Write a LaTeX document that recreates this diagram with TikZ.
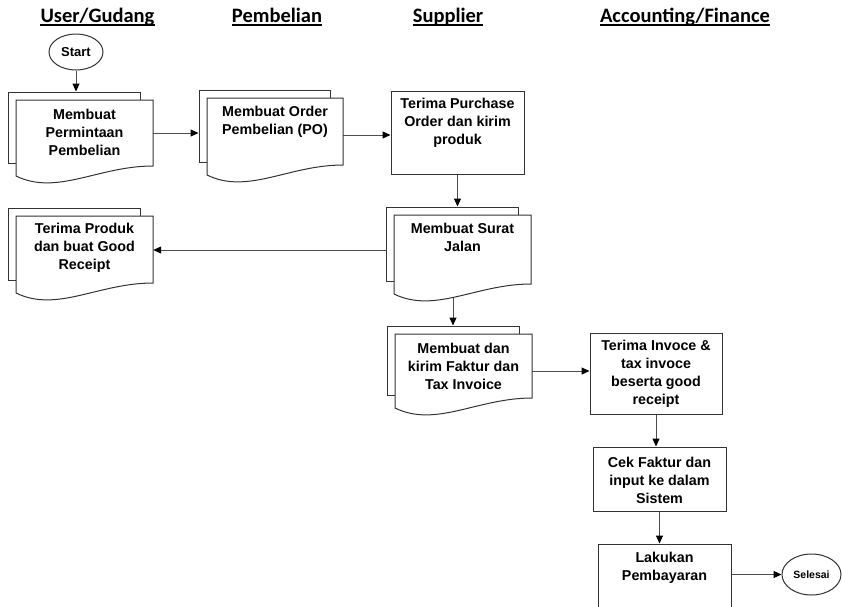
\documentclass[tikz,border=0pt]{standalone}
\usepackage{fontspec}
\setmainfont{Liberation Sans}
\newfontfamily\hdrfont{Carlito}
\usetikzlibrary{arrows.meta,shapes.geometric}
\pgfdeclarelayer{background}
\pgfsetlayers{background,main}
\tikzset{
  boxline/.style={draw=black!80, line width=1pt},
  txt/.style={align=center, font=\fontsize{14.3}{18}\selectfont\bfseries, inner sep=0pt},
  hdr/.style={font=\hdrfont\fontsize{20.5}{24}\selectfont\bfseries, inner sep=0pt, anchor=base},
  conn/.style={draw=black!70, line width=1pt, -{Triangle[length=8pt,width=7pt,color=black]}},
  procbox/.style={boxline, fill=white, rectangle, inner sep=0pt},
  term/.style={boxline, fill=white, ellipse, inner sep=0pt},
  ghost/.style={rectangle, inner sep=0pt, draw=none},
}
% #1 name, #2 x0, #3 x1, #4 top, #5 left bottom, #6 text y, #7 text
\newcommand\mdoc[7]{%
  \pgfmathsetmacro\mdW{(#3)-(#2)}%
  \node[procbox, minimum width={(#3)-(#2)-5}, minimum height={(#5)-(#4)-5}]
    (#1-b) at ({((#2)-8+(#3)-13)/2},{((#4)-8+(#5)-13)/2}) {};
  \draw[boxline, fill=white] (#2,#4) -- (#3,#4) -- (#3,{(#5)-10})
    .. controls ({(#2)+0.6*\mdW},{(#5)-10}) and ({(#2)+0.3*\mdW},{(#5)+20}) .. (#2,#5) -- cycle;
  \node[ghost, minimum width={(#3)-(#2)}, minimum height={(#5)-(#4)}]
    (#1) at ({((#2)+(#3))/2},{((#4)+(#5))/2}) {};
  \node[txt] (#1-t) at ({((#2)+(#3))/2},#6) {#7};
}
\begin{document}
\begin{tikzpicture}[x=1pt,y=-1pt]
\useasboundingbox (0,0) rectangle (842,606);
\clip (0,0) rectangle (842,606);

% headers
\foreach \nm/\hx/\htxt in {h1/97.5/User\slash Gudang, h2/277/Pembelian, h3/448/Supplier, h4/685/Accounting\slash Finance}{
  \node[hdr] (\nm) at (\hx,22.5) {\htxt};
  \draw[line width=1.2pt] ([yshift=-2.5pt]\nm.base west) -- ([yshift=-2.5pt]\nm.base east);
}

% start
\node[term, minimum width=54pt, minimum height=36pt, font=\fontsize{13}{15}\selectfont\bfseries] (start) at (76,52) {Start};

% documents
\mdoc{b1}{16}{153}{100}{176}{132}{Membuat\\Permintaan\\Pembelian}
\mdoc{b2}{207}{343}{98}{175}{122}{Membuat Order\\Pembelian (PO)}
\mdoc{b4}{394}{531}{215}{294}{237}{Membuat Surat\\Jalan}
\mdoc{b5}{16}{153}{216}{293}{248}{Terima Produk\\dan buat Good\\Receipt}
\mdoc{b6}{395}{532}{334}{408}{366}{Membuat dan\\kirim Faktur dan\\Tax Invoice}

% process boxes
\node[procbox, minimum width=133pt, minimum height=83pt] (b3) at (457.5,132.5) {};
\node[txt] (b3-t) at (457.5,123) {Terima Purchase\\Order dan kirim\\produk};
\node[procbox, minimum width=132pt, minimum height=81pt] (b7) at (656,373.5) {};
\node[txt] (b7-t) at (656,374) {Terima Invoce \&\\tax invoce\\beserta good\\receipt};
\node[procbox, minimum width=133pt, minimum height=64pt] (b8) at (659.5,479) {};
\node[txt] (b8-t) at (659.5,480) {Cek Faktur dan\\input ke dalam\\Sistem};
\node[procbox, minimum width=133pt, minimum height=76pt] (b9) at (664.5,582) {};
\node[txt] (b9-t) at (664.5,568) {Lakukan\\Pembayaran};

% end
\node[term, minimum width=59pt, minimum height=41pt, font=\fontsize{10.5}{12}\selectfont\bfseries] (end) at (811.5,574.5) {Selesai};

% connectors
\begin{pgfonlayer}{background}
\draw[conn] (start) -- (start |- b1-b.north);
\draw[conn] ([yshift=5pt]b1.east) -- ([yshift=5pt]b1.east -| b2-b.west);
\draw[conn] ([yshift=1.5pt]b2.east) -- ([yshift=1.5pt]b2.east -| b3.west);
\draw[conn] (b3.south) -- (b3.south |- b4-b.north);
\draw[conn] ([yshift=-6pt]b4-b.west) -- ([yshift=-6pt]b4-b.west -| b5.east);
\draw[conn] (b6-b.north |- b4.south) -- (b6-b.north);
\draw[conn] (b6.east) -- (b6.east -| b7.west);
\draw[conn] (b7.south) -- (b7.south |- b8.north);
\draw[conn] (b8.south) -- (b8.south |- b9.north);
\draw[conn] (b9.east |- end.west) -- (end.west);
\end{pgfonlayer}
\end{tikzpicture}
\end{document}
